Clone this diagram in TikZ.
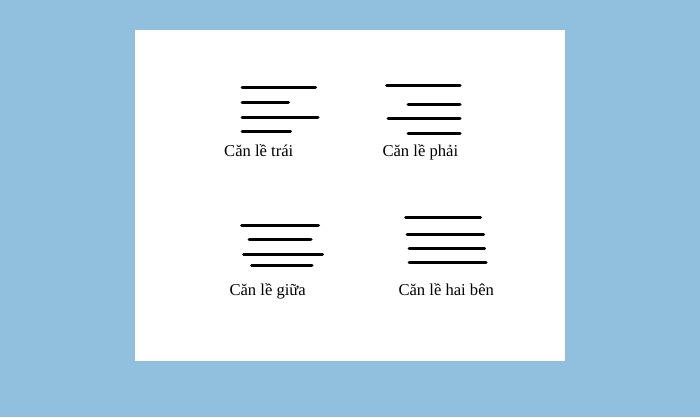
\documentclass[tikz,border=0pt]{standalone}
\usepackage{fontspec}
\setmainfont{Liberation Serif}
\definecolor{bgblue}{RGB}{144,192,222}
\begin{document}
\begin{tikzpicture}[x=1pt,y=-1pt,
  bar/.style={line width=3pt,line cap=round,black},
  lbl/.style={anchor=base west,inner sep=0pt,font=\fontsize{16.6}{19}\selectfont}]
\useasboundingbox (0,0) rectangle (700,417);
\fill[bgblue] (0,0) rectangle (700,417);
\fill[white] (135,30) rectangle (565,360.5);
% left align
\draw[bar] (242,87.7) -- (315.5,87.7);
\draw[bar] (242,102.3) -- (288.5,102.3);
\draw[bar] (242,117.7) -- (318,117.7);
\draw[bar] (242,131.7) -- (290.5,131.7);
\node[lbl] (t1) at (224,156.7) {Căn lề trái};
% right align
\draw[bar] (386.5,85.7) -- (460,85.7);
\draw[bar] (408,104) -- (460,104);
\draw[bar] (388,118.3) -- (460,118.3);
\draw[bar] (408,133.7) -- (460,133.7);
\node[lbl] (t2) at (382.3,156.7) {Căn lề phải};
% center
\draw[bar] (241.5,225) -- (318.5,225);
\draw[bar] (249,239.3) -- (311,239.3);
\draw[bar] (243.5,254.3) -- (322.5,254.3);
\draw[bar] (251.5,265.7) -- (312,265.7);
\node[lbl] (t3) at (229.3,295.7) {Căn lề giữa};
% justify
\draw[bar] (405.5,217.3) -- (480.5,217.3);
\draw[bar] (407,234) -- (483.5,234);
\draw[bar] (409,248.3) -- (484.5,248.3);
\draw[bar] (409,262.7) -- (486,262.7);
\node[lbl] (t4) at (398.3,295.7) {Căn lề hai bên};
\end{tikzpicture}
\end{document}
